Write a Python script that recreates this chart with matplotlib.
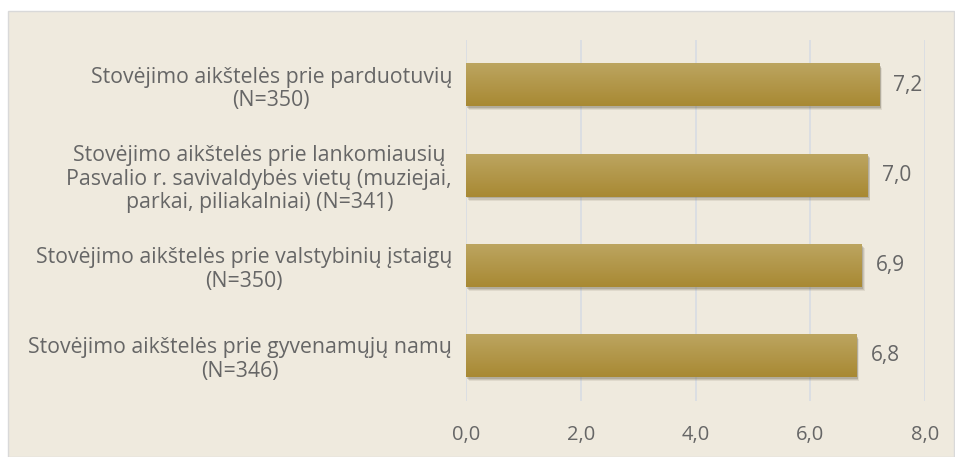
import numpy as np
import matplotlib.pyplot as plt
from matplotlib.patches import Rectangle

# data
labels = [
    "Stovėjimo aikštelės prie parduotuvių\n(N=350)",
    "Stovėjimo aikštelės prie lankomiausių\nPasvalio r. savivaldybės vietų (muziejai,\nparkai, piliakalniai) (N=341)",
    "Stovėjimo aikštelės prie valstybinių įstaigų\n(N=350)",
    "Stovėjimo aikštelės prie gyvenamųjų namų\n(N=346)",
]
values = [7.2, 7.0, 6.9, 6.8]
value_text = ["7,2", "7,0", "6,9", "6,8"]
xticks = [0, 2, 4, 6, 8]
xtick_labels = ["0,0", "2,0", "4,0", "6,0", "8,0"]

BG = "#EFEADE"
TXT = "#666666"
plt.rcParams['font.family'] = ['Open Sans', 'DejaVu Sans']

fig = plt.figure(figsize=(9.55, 4.57), dpi=100)
fig.patch.set_facecolor("white")
fig.patches.append(Rectangle((8 / 955, 0), 946 / 955, 446 / 457, transform=fig.transFigure,
                             facecolor=BG, edgecolor="#D9D9D9", lw=1, zorder=-10))

ax = fig.add_axes([466 / 955, 1 - 401 / 457, 459 / 955, 361 / 457])
ax.set_facecolor("none")
ypos = np.arange(len(values))
h = 0.47

# soft shadow under each bar
for k, a in enumerate([0.12, 0.18, 0.25]):
    off = 0.045 - k * 0.012
    ax.barh(ypos + off, values, height=h, left=0.05 - k * 0.012, color="#6E6552", alpha=a, zorder=2, lw=0)
# gradient bars
grad = np.linspace(0, 1, 64).reshape(-1, 1)
top_c = np.array([0.737, 0.647, 0.376])
bot_c = np.array([0.659, 0.537, 0.200])
img = top_c + (bot_c - top_c) * grad[..., None]
img = img.reshape(64, 1, 3)
for y, v, t in zip(ypos, values, value_text):
    ax.imshow(img, extent=[0, v, y + h / 2, y - h / 2], aspect="auto", zorder=3, interpolation="bilinear")
    ax.text(v + 0.25, y, t, va="center", ha="left", fontsize=15, color=TXT, zorder=4)

ax.set_xlim(0, 8)
ax.set_ylim(3.5, -0.5)
ax.set_xticks(xticks)
ax.set_xticklabels(xtick_labels, fontsize=14.5, color=TXT)
ax.set_yticks(ypos)
ax.set_yticklabels(labels, fontsize=15.3, color=TXT, multialignment="center", linespacing=1.17)
ax.tick_params(axis="both", length=0)
ax.tick_params(axis="x", pad=17)
ax.tick_params(axis="y", pad=10)
ax.grid(axis="x", color="#D8DCE3", lw=1.2, zorder=1)
ax.set_axisbelow(True)
for s in ax.spines.values():
    s.set_visible(False)

fig.savefig("out.png", dpi=100, facecolor=fig.get_facecolor())
